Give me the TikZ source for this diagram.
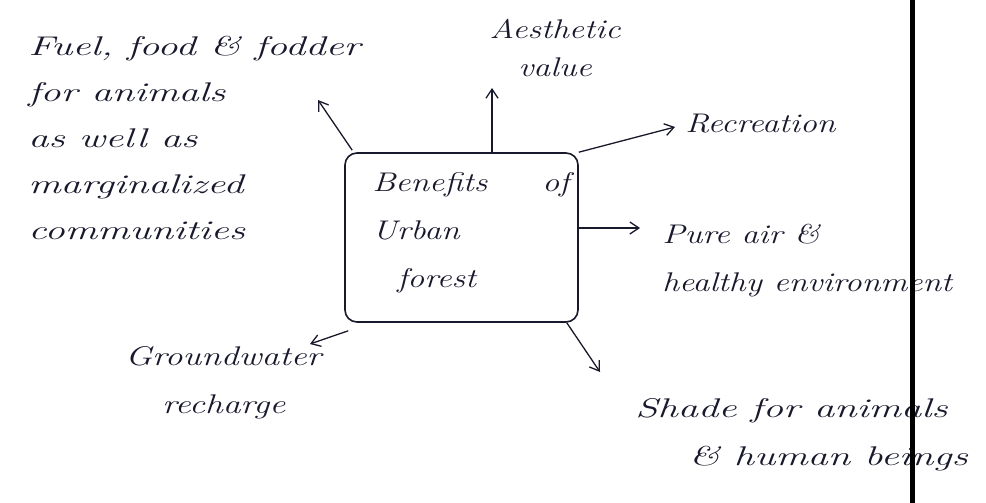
\documentclass[tikz,border=0pt]{standalone}
\usepackage{fontspec}
\setmainfont{Latin Modern Roman}
\usetikzlibrary{arrows.meta}
\definecolor{ink}{RGB}{25,25,45}
\begin{document}
\begin{tikzpicture}[x=1pt,y=-1pt,
  hand/.style={font=\fontsize{27}{50}\selectfont\itshape, text=ink, inner sep=0pt, xscale=1.25},
  arr/.style={draw=ink, line width=1.3pt, -{Straight Barb[length=9pt,width=12pt]}},
  boxstyle/.style={draw=ink, line width=1.6pt, rounded corners=12pt, minimum width=233pt, minimum height=169pt, inner sep=0pt}]
\useasboundingbox (0,0) rectangle (986,503);
\fill[white] (0,0) rectangle (986,503);

\node[boxstyle] (box) at (461.5,237.5) {};
\node[hand, align=left, anchor=north west] (boxtext) at (372,172) {Benefits \hspace{25pt} of\\[-2pt]Urban\\[-2pt]\hspace{20pt}forest};

\node[hand, xscale=1.2, anchor=north west, align=left] (fuel) at (28,36) {Fuel, food \& fodder\\[-4pt]for animals\\[-4pt]as well as\\[-4pt]marginalized\\[-4pt]communities};
\node[hand, align=center] (aes) at (555,48) {Aesthetic\\[-12pt]value};
\node[hand, anchor=west] (rec) at (685,124) {Recreation};
\node[hand, anchor=north west, align=left] (pure) at (662,224) {Pure air \&\\[-2pt]healthy environment};
\node[hand, xscale=1.05, anchor=north west, align=left] (ground) at (125,346) {Groundwater\\[-2pt]\hspace{28pt}recharge};
\node[hand, xscale=1.2, anchor=north west, align=left] (shade) at (635,398) {Shade for animals\\[-2pt]\hspace{36pt}\& human beings};

\coordinate (t1) at (318,100);
\coordinate (t2) at (492,88);
\coordinate (t3) at (675,127);
\coordinate (t4) at (640,228);
\coordinate (t5) at (600,372);
\coordinate (t6) at (310,344);

\draw[arr] ([xshift=8pt,yshift=2pt]box.north west) -- (t1);
\draw[arr] (box.north -| t2) -- (t2);
\draw[arr] (box.north east) -- (t3);
\draw[arr] (box.east |- t4) -- (t4);
\draw[arr] ([xshift=-12pt]box.south east) -- (t5);
\draw[arr] ([xshift=4pt,yshift=-8pt]box.south west) -- (t6);

\draw[line width=5pt, black] (912,0) coordinate (v1) -- (912,503) coordinate (v2);
\end{tikzpicture}
\end{document}
